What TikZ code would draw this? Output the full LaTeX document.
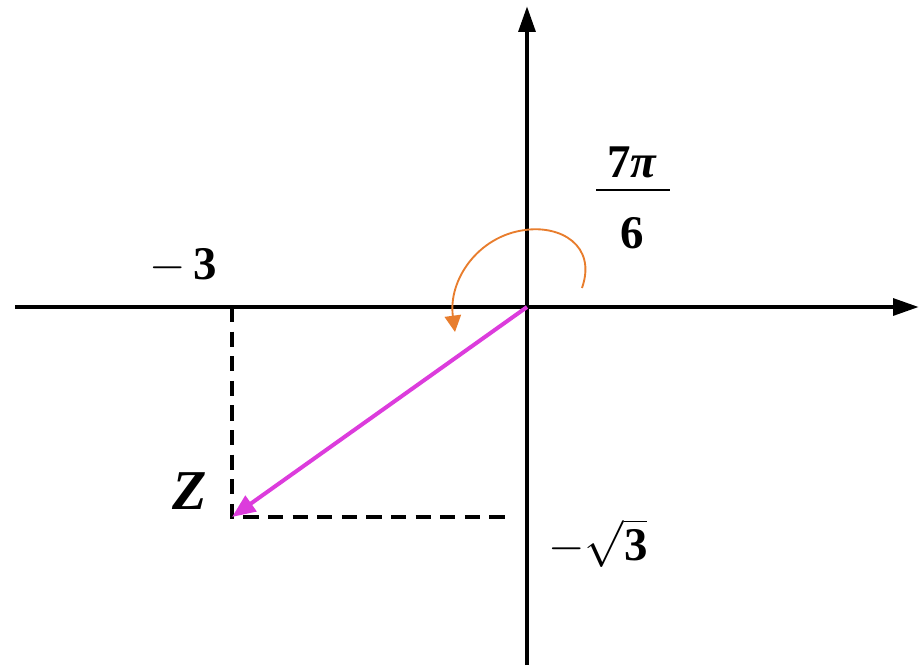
\RequirePackage{fix-cm}
\documentclass[tikz,border=0pt]{standalone}
\usepackage{fontspec}
\setmainfont{Liberation Serif}
\usetikzlibrary{arrows.meta}
\definecolor{vecmag}{RGB}{220,60,220}
\definecolor{arcor}{RGB}{232,125,45}
\begin{document}
\begin{tikzpicture}[x=0.03cm,y=-0.03cm,
  axis/.style={line width=3.8pt,-{Triangle[length=22pt,width=14pt]}},
  guide/.style={line width=2.6pt,dash pattern=on 13pt off 8pt},
  vec/.style={line width=3.4pt,vecmag,-{Triangle[length=20pt,width=16pt]}},
  turn/.style={line width=1.6pt,arcor,-{Triangle[length=14pt,width=14pt]}},
  lab/.style={font=\fontsize{40}{44}\selectfont\bfseries,inner sep=0pt}]
\useasboundingbox (0,0) rectangle (919,665);
\coordinate (xl) at (15,307);
\coordinate (xr) at (919,307);
\coordinate (yb) at (527,665);
\coordinate (yt) at (527,6);
\coordinate (O) at (527,307);
\coordinate (Z) at (232,517);
\coordinate (px) at (232,307);
\coordinate (py) at (510,517);
\coordinate (as) at (582,288);
\coordinate (ae) at (455,332);
\coordinate (fl) at (596,190);
\coordinate (fr) at (670,190);
\draw[axis] (xl) -- (xr);
\draw[axis] (yb) -- (yt);
\draw[guide] (px) -- (Z) -- (py);
\draw[vec] (O) -- (Z);
\draw[turn] (as) .. controls (597,245) and (560,225) .. (525,230)
  .. controls (478,236) and (448,280) .. (ae);
\node[lab] (m3) at (183,266) {$\mathbf{-}$\,3};
\node[lab,font=\fontsize{48}{50}\selectfont\bfseries\itshape] (zl) at (190,491) {Z};
\node[lab] (num) at (632,162) {7\textit{π}};
\draw[line width=1.6pt] (fl) -- (fr);
\node[lab] (den) at (632,233) {6};
\node[lab] (s3) at (598,543) {$-\sqrt{\mbox{\bfseries 3}}$};
\end{tikzpicture}
\end{document}
